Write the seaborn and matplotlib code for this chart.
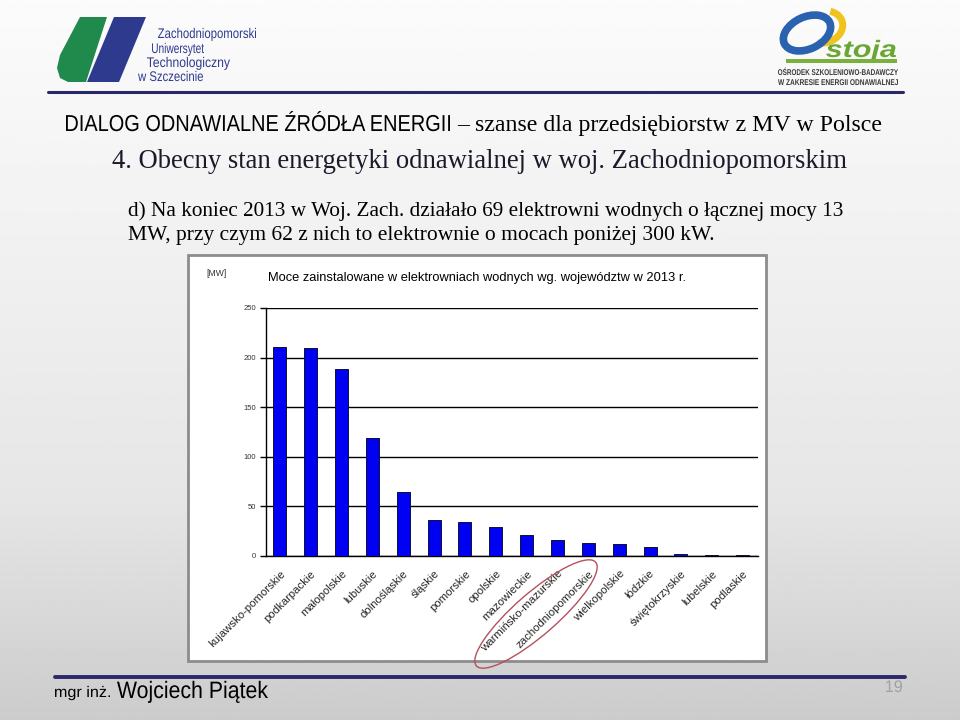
import numpy as np
import matplotlib
matplotlib.use("Agg")
import matplotlib.pyplot as plt
import seaborn as sns
from matplotlib.patches import Rectangle, Polygon, Ellipse, Arc, PathPatch
from matplotlib.textpath import TextPath
from matplotlib.font_manager import FontProperties
from matplotlib.transforms import Affine2D

# dane (MW)
wojewodztwa = ['kujawsko-pomorskie', 'podkarpackie', 'małopolskie', 'lubuskie',
               'dolnośląskie', 'śląskie', 'pomorskie', 'opolskie', 'mazowieckie',
               'warmińsko-mazurskie', 'zachodniopomorskie', 'wielkopolskie',
               'łódzkie', 'świętokrzyskie', 'lubelskie', 'podlaskie']
moc_mw = [211, 209.5, 189, 118.5, 64.5, 36.5, 34, 29.5, 21.5, 16, 13, 12, 9.5, 2.5, 0.7, 0.6]
y_ticks = [0, 50, 100, 150, 200, 250]

tytul_wykresu = 'Moce zainstalowane w elektrowniach wodnych wg. województw w 2013 r.'
naglowek = 'DIALOG ODNAWIALNE ŹRÓDŁA ENERGII'
podtytul = '– szanse dla przedsiębiorstw z MV w Polsce'
punkt = '4. Obecny stan energetyki odnawialnej w woj. Zachodniopomorskim'
opis1 = 'd) Na koniec 2013 w Woj. Zach. działało 69 elektrowni wodnych o łącznej mocy 13'
opis2 = 'MW, przy czym 62 z nich to elektrownie o mocach poniżej 300 kW.'

sns.set_style("white")
plt.rcParams['font.family'] = ['Liberation Sans', 'DejaVu Sans']
serif = 'Liberation Serif'

fig = plt.figure(figsize=(9.6, 7.2), dpi=100)
renderer = fig.canvas.get_renderer()

# --- tło slajdu (współrzędne w pikselach) ---
bg = fig.add_axes([0, 0, 1, 1], zorder=0)
bg.set_xlim(0, 960)
bg.set_ylim(720, 0)
bg.axis('off')
grad = np.interp(np.linspace(0, 1, 256), [0, 0.7, 1], [0.985, 0.90, 0.80])
bg.imshow(np.tile(grad[:, None], (1, 2)), cmap='gray', vmin=0, vmax=1,
          extent=(0, 960, 720, 0), aspect='auto')


def put(x, y, s, width, family, size0=12, **kw):
    # tekst dopasowany do szerokości w pikselach
    t = bg.text(x, y, s, family=family, fontsize=size0, va='baseline', **kw)
    w = t.get_window_extent(renderer).width
    t.set_fontsize(size0 * width / w)
    return t


def put_narrow(x, y, s, width, cap, color, family='Liberation Sans', weight='normal', style='normal'):
    # tekst "zwężony" (jak Arial Narrow): szerokość i wysokość wersalików w pikselach
    tp = TextPath((0, 0), s, size=1, prop=FontProperties(family=family, weight=weight, style=style))
    ext = tp.get_extents()
    sx = width / ext.width
    sy = cap / 0.716
    tr = Affine2D().translate(-ext.x0, 0).scale(sx, -sy).translate(x, y) + bg.transData
    bg.add_patch(PathPatch(tp, transform=tr, fc=color, ec='none', lw=0))


# logo ZUT
bg.add_patch(Polygon([(80, 17), (107, 17), (86, 82), (68, 82), (60, 78), (57, 68), (60, 55)],
                     closed=True, fc='#1f8a4c', ec='none'))
bg.add_patch(Polygon([(114, 17), (146, 17), (119, 82), (87, 82)], closed=True, fc='#2e3a8e', ec='none'))
for tx, ty, s, w in [(158, 38, 'Zachodniopomorski', 98), (152, 53, 'Uniwersytet', 52),
                     (147, 67, 'Technologiczny', 83), (138, 81, 'w Szczecinie', 65)]:
    put_narrow(tx, ty, s, w, 10, '#2e3a8e')

# logo Ostoja
bg.add_patch(Arc((823, 27), 40, 32, angle=-15, theta1=-50, theta2=125, color='#f0c41c', lw=5))
bg.add_patch(Ellipse((807, 33), 50, 32, angle=-25, fc='none', ec='#2b62b0', lw=5.5))
put_narrow(826, 57, 'stoja', 70, 17, '#6aa632', weight='bold', style='italic')
bg.add_patch(Rectangle((786, 59), 111, 4, fc='#7ab03c', ec='none'))
put_narrow(778, 75, 'OŚRODEK SZKOLENIOWO-BADAWCZY', 120, 6, '#3a3a3a', weight='bold')
put_narrow(778, 85, 'W ZAKRESIE ENERGII ODNAWIALNEJ', 120, 6, '#3a3a3a', weight='bold')

# linie nagłówka i stopki
bg.plot([48, 903], [92, 92], color='#2a2868', lw=2.2)
bg.plot([55, 905], [677, 677], color='#2a2868', lw=2.8)

# teksty slajdu
put_narrow(66, 131, naglowek, 384, 16.5, 'black')
put(457, 131, podtytul, 424, serif, color='black')
put(112, 168, punkt, 735, serif, color='#1a1a2a')
put(128, 216, opis1, 715, serif, color='black')
put(128, 240, opis2, 584, serif, color='black')

# stopka
put_narrow(55, 697, 'mgr inż.', 55, 11, 'black')
put_narrow(117, 698, 'Wojciech Piątek', 151, 17, 'black')
put_narrow(886, 692, '19', 16, 12, '#a0a0a8')

# ramka wykresu
bg.add_patch(Rectangle((188, 255), 578, 406, fc='white', ec='#8c8c8c', lw=2))
put(206, 276, '[MW]', 20, 'Liberation Sans', color='#333333')
put(268, 281, tytul_wykresu, 418, 'Liberation Sans', color='black')

# --- wykres słupkowy ---
ax = fig.add_axes([266 / 960, (720 - 556) / 720, 492 / 960, 248 / 720], zorder=1)
ax.patch.set_alpha(0)
sns.barplot(x=wojewodztwa, y=moc_mw, color='#0000f2', saturation=1, edgecolor='#101030',
            linewidth=0.7, width=0.42, ax=ax, zorder=3)
ax.set_xlim(-0.45, len(wojewodztwa) - 0.5)
ax.set_ylim(0, 250)
ax.set_yticks(y_ticks)
ax.set_yticklabels([str(v) for v in y_ticks], fontsize=5.5, color='#333333')
ax.yaxis.grid(True, color='black', linewidth=1)
ax.set_axisbelow(True)
ax.set_xticks(range(len(wojewodztwa)))
ax.set_xticklabels(wojewodztwa, rotation=45, ha='right', rotation_mode='anchor', fontsize=8.2)
ax.set_xticks(np.arange(0.5, len(wojewodztwa), 1), minor=True)
ax.tick_params(axis='x', which='major', length=0, pad=9)
ax.tick_params(axis='x', which='minor', length=4, width=1, color='black', direction='out')
ax.tick_params(axis='y', length=4, width=1, color='black', direction='out', pad=3, left=True)
ax.set_xlabel('')
ax.set_ylabel('')
for side in ['top', 'right']:
    ax.spines[side].set_visible(False)
for side in ['left', 'bottom']:
    ax.spines[side].set_color('black')
    ax.spines[side].set_linewidth(1)

# czerwona elipsa wokół zachodniopomorskiego
ov = fig.add_axes([0, 0, 1, 1], zorder=2)
ov.set_xlim(0, 960)
ov.set_ylim(720, 0)
ov.axis('off')
ov.patch.set_alpha(0)
ov.add_patch(Ellipse((536, 614), 158, 42, angle=-41, fc='none', ec='#b5505c', lw=1))

fig.savefig('out.png', dpi=100)
